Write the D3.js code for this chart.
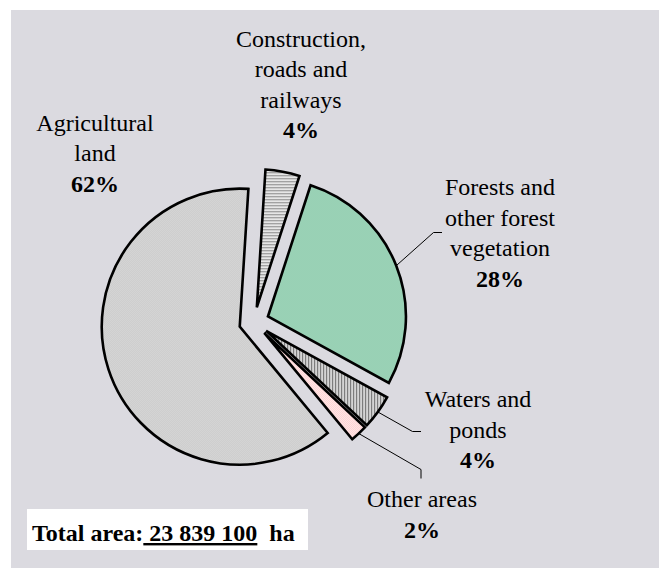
<!DOCTYPE html>
<html>
<head>
<meta charset="utf-8">
<script src="https://cdn.jsdelivr.net/npm/d3@7"></script>
<style>
  html, body { margin: 0; padding: 0; background: #ffffff; }
  svg { display: block; }
</style>
</head>
<body>
<script>
// Land use shares (%), clockwise from the top
const categories = ["Construction, roads and railways", "Forests and other forest vegetation", "Waters and ponds", "Other areas", "Agricultural land"];
const shares = [4, 28, 4, 2, 62];
const labelLines = [
  ["Construction,", "roads and", "railways"],
  ["Forests and", "other forest", "vegetation"],
  ["Waters and", "ponds"],
  ["Other areas"],
  ["Agricultural", "land"]
];
const totalAreaLabel = "Total area:";
const totalAreaValue = " 23 839 100";
const totalAreaUnit = "  ha";

const W = 659, H = 568;
const cx = 254, cy = 322, radius = 138, explode = 15;
const startAngle = 3.6 * Math.PI / 180;
const serif = "Liberation Serif";

const svg = d3.select("body").append("svg").attr("width", W).attr("height", H);

// Background panel
svg.append("rect").attr("x", 11).attr("y", 10).attr("width", W - 11).attr("height", H - 10)
  .attr("fill", "#dbdae0");

const pie = d3.pie().sort(null).value(d => d)
  .startAngle(startAngle).endAngle(startAngle + 2 * Math.PI);
const arcs = pie(shares);
const arc = d3.arc().innerRadius(0).outerRadius(radius);

function dirOf(a) {
  const m = (a.startAngle + a.endAngle) / 2;
  return [Math.sin(m), -Math.cos(m)];
}

// Label placement: centre x, first baseline, optional leader elbow and end
const layout = [
  { x: 301, y: 46.5 },
  { x: 500, y: 195, leader: [[433.5, 232.5], [442, 232.5]] },
  { x: 478, y: 407, leader: [[412.5, 431.5], [421, 431.5]] },
  { x: 422, y: 507, leader: [[421, 469.5], [421, 478.5]] },
  { x: 95, y: 130.5 }
];
const lineH = 30.5;

arcs.forEach((a, i) => {
  const L = layout[i];
  labelLines[i].forEach((line, k) => {
    svg.append("text").attr("font-family", serif).attr("font-size", 24)
      .attr("text-anchor", "middle").attr("x", L.x).attr("y", L.y + k * lineH)
      .attr("fill", "#000").text(line);
  });
  svg.append("text").attr("font-family", serif).attr("font-size", 24).attr("font-weight", "bold")
    .attr("text-anchor", "middle").attr("x", L.x).attr("y", L.y + labelLines[i].length * lineH)
    .attr("fill", "#000").text(shares[i] + "%");
  if (L.leader) {
    const [dx, dy] = dirOf(a);
    const r = radius + explode;
    const pts = [[cx + dx * r, cy + dy * r]].concat(L.leader);
    svg.append("path").attr("d", d3.line()(pts))
      .attr("fill", "none").attr("stroke", "#000").attr("stroke-width", 1);
  }
});

// Total area box
svg.append("rect").attr("x", 27).attr("y", 509).attr("width", 281).attr("height", 41).attr("fill", "#ffffff");
const tot = svg.append("text").attr("x", 32).attr("y", 541).attr("font-size", 24)
  .attr("font-family", serif).attr("font-weight", "bold").attr("fill", "#000")
  .attr("xml:space", "preserve");
tot.append("tspan").text(totalAreaLabel);
tot.append("tspan").attr("text-decoration", "underline").text(totalAreaValue);
tot.append("tspan").text(totalAreaUnit);

// Fill patterns for each slice
const defs = svg.append("defs");
function dotPattern(id, base, dot) {
  const p = defs.append("pattern").attr("id", id)
    .attr("patternUnits", "userSpaceOnUse").attr("width", 2).attr("height", 2);
  p.append("rect").attr("width", 2).attr("height", 2).attr("fill", base);
  p.append("rect").attr("width", 1).attr("height", 1).attr("fill", dot);
  p.append("rect").attr("x", 1).attr("y", 1).attr("width", 1).attr("height", 1).attr("fill", dot);
  return "url(#" + id + ")";
}
function stripePattern(id, light, dark, vertical) {
  const p = defs.append("pattern").attr("id", id)
    .attr("patternUnits", "userSpaceOnUse").attr("width", 3).attr("height", 3);
  p.append("rect").attr("width", 3).attr("height", 3).attr("fill", light);
  if (vertical) p.append("rect").attr("width", 1).attr("height", 3).attr("fill", dark);
  else p.append("rect").attr("width", 3).attr("height", 1).attr("fill", dark);
  return "url(#" + id + ")";
}
const fills = [
  stripePattern("hstripe", "#e6e6e6", "#8a8a8a", false),
  dotPattern("greendots", "#a6dcc1", "#8cc6a9"),
  stripePattern("vstripe", "#d4d4d4", "#6f6f6f", true),
  dotPattern("pinkdots", "#ffcaca", "#fff0f0"),
  dotPattern("graydots", "#e6e6e6", "#bcbcbc")
];

const g = svg.insert("g", "text").attr("transform", `translate(${cx},${cy})`);
g.selectAll("path.slice").data(arcs).join("path")
  .attr("class", "slice")
  .attr("transform", d => { const [dx, dy] = dirOf(d); return `translate(${dx * explode},${dy * explode})`; })
  .attr("d", arc)
  .attr("fill", (d, i) => fills[i])
  .attr("stroke", "#000")
  .attr("stroke-width", 2.6)
  .attr("stroke-linejoin", "miter");
</script>
</body>
</html>
